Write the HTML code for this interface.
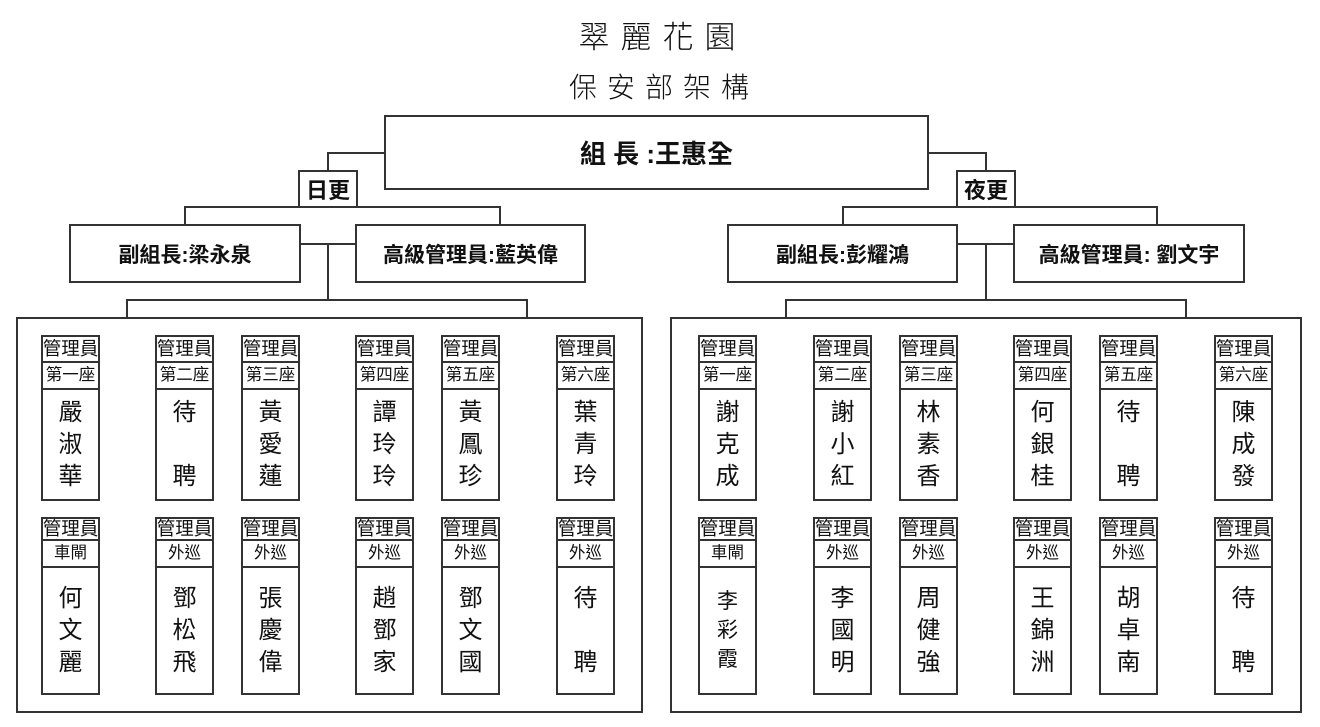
<!DOCTYPE html>
<html><head><meta charset="utf-8">
<style>
*{margin:0;padding:0;box-sizing:border-box}
html,body{width:1320px;height:727px;background:#fff;overflow:hidden}
body{position:relative;font-family:"Liberation Sans","Noto Sans CJK TC",sans-serif;color:#111}
.l{position:absolute;background:#333}
.b{position:absolute;border:2px solid #333;background:#fff;display:flex;align-items:center;justify-content:center;white-space:nowrap}
.t{position:absolute;left:0;width:1320px;text-align:center;font-weight:300;white-space:nowrap}
.main{font-size:26px;font-weight:bold}
.sub{font-size:21px;font-weight:bold}
.sh{font-size:22px;font-weight:bold}
.c{position:absolute;width:59px;border:2px solid #333;background:#fff;display:flex;flex-direction:column}
.r1{top:335px;height:166px}
.r2{top:517px;height:178px}
.h{border-bottom:2px solid #333;display:flex;align-items:center;justify-content:center;font-size:18.5px;white-space:nowrap;line-height:1;overflow:visible}
.r1 .h{height:26px}
.r2 .h{height:22px}
.s{height:27px;border-bottom:2px solid #333;display:flex;align-items:center;justify-content:center;font-size:16.5px;white-space:nowrap;line-height:1}
.n{flex:1;display:flex;align-items:center;justify-content:center;text-align:center;font-size:24px;line-height:32px}
.n.sm{font-size:21px;line-height:29px}
</style></head><body>

<div class="t" style="top:19px;font-size:31px;line-height:38px;letter-spacing:11px;padding-left:5px">翠麗花園</div>
<div class="t" style="top:69px;font-size:28px;line-height:38px;letter-spacing:10px;padding-left:8px">保安部架構</div>

<!-- connectors -->
<div class="l" style="left:327px;top:152px;width:59px;height:2px"></div>
<div class="l" style="left:327px;top:152px;width:2px;height:20px"></div>
<div class="l" style="left:927px;top:152px;width:60px;height:2px"></div>
<div class="l" style="left:985px;top:152px;width:2px;height:20px"></div>

<div class="l" style="left:184px;top:206px;width:317px;height:2px"></div>
<div class="l" style="left:184px;top:206px;width:2px;height:20px"></div>
<div class="l" style="left:499px;top:206px;width:2px;height:20px"></div>
<div class="l" style="left:842px;top:206px;width:316px;height:2px"></div>
<div class="l" style="left:842px;top:206px;width:2px;height:20px"></div>
<div class="l" style="left:1156px;top:206px;width:2px;height:20px"></div>

<div class="l" style="left:299px;top:243px;width:58px;height:2px"></div>
<div class="l" style="left:327px;top:243px;width:2px;height:58px"></div>
<div class="l" style="left:956px;top:243px;width:59px;height:2px"></div>
<div class="l" style="left:985px;top:243px;width:2px;height:58px"></div>

<div class="l" style="left:126px;top:299px;width:402px;height:2px"></div>
<div class="l" style="left:126px;top:299px;width:2px;height:20px"></div>
<div class="l" style="left:526px;top:299px;width:2px;height:20px"></div>
<div class="l" style="left:785px;top:299px;width:402px;height:2px"></div>
<div class="l" style="left:785px;top:299px;width:2px;height:20px"></div>
<div class="l" style="left:1185px;top:299px;width:2px;height:20px"></div>

<!-- boxes -->
<div class="b main" style="left:384px;top:115px;width:545px;height:75px">組 長 :王惠全</div>
<div class="b sh" style="left:298px;top:170px;width:60px;height:38px">日更</div>
<div class="b sh" style="left:956px;top:170px;width:60px;height:38px">夜更</div>

<div class="b sub" style="left:69px;top:224px;width:232px;height:59px">副組長:梁永泉</div>
<div class="b sub" style="left:355px;top:224px;width:231px;height:59px">高級管理員:藍英偉</div>
<div class="b sub" style="left:727px;top:224px;width:231px;height:59px">副組長:彭耀鴻</div>
<div class="b sub" style="left:1013px;top:224px;width:232px;height:59px">高級管理員: 劉文宇</div>

<!-- containers -->
<div class="b" style="left:16px;top:317px;width:627px;height:396px"></div>
<div class="b" style="left:670px;top:317px;width:632px;height:396px"></div>

<!-- left row 1 -->
<div class="c r1" style="left:41px"><div class="h">管理員</div><div class="s">第一座</div><div class="n">嚴<br>淑<br>華</div></div>
<div class="c r1" style="left:155px"><div class="h">管理員</div><div class="s">第二座</div><div class="n">待<br>　<br>聘</div></div>
<div class="c r1" style="left:241px"><div class="h">管理員</div><div class="s">第三座</div><div class="n">黃<br>愛<br>蓮</div></div>
<div class="c r1" style="left:355px"><div class="h">管理員</div><div class="s">第四座</div><div class="n">譚<br>玲<br>玲</div></div>
<div class="c r1" style="left:441px"><div class="h">管理員</div><div class="s">第五座</div><div class="n">黃<br>鳳<br>珍</div></div>
<div class="c r1" style="left:556px"><div class="h">管理員</div><div class="s">第六座</div><div class="n">葉<br>青<br>玲</div></div>

<!-- left row 2 -->
<div class="c r2" style="left:41px"><div class="h">管理員</div><div class="s">車閘</div><div class="n">何<br>文<br>麗</div></div>
<div class="c r2" style="left:155px"><div class="h">管理員</div><div class="s">外巡</div><div class="n">鄧<br>松<br>飛</div></div>
<div class="c r2" style="left:241px"><div class="h">管理員</div><div class="s">外巡</div><div class="n">張<br>慶<br>偉</div></div>
<div class="c r2" style="left:355px"><div class="h">管理員</div><div class="s">外巡</div><div class="n">趙<br>鄧<br>家</div></div>
<div class="c r2" style="left:441px"><div class="h">管理員</div><div class="s">外巡</div><div class="n">鄧<br>文<br>國</div></div>
<div class="c r2" style="left:556px"><div class="h">管理員</div><div class="s">外巡</div><div class="n">待<br>　<br>聘</div></div>

<!-- right row 1 -->
<div class="c r1" style="left:698px"><div class="h">管理員</div><div class="s">第一座</div><div class="n">謝<br>克<br>成</div></div>
<div class="c r1" style="left:813px"><div class="h">管理員</div><div class="s">第二座</div><div class="n">謝<br>小<br>紅</div></div>
<div class="c r1" style="left:899px"><div class="h">管理員</div><div class="s">第三座</div><div class="n">林<br>素<br>香</div></div>
<div class="c r1" style="left:1013px"><div class="h">管理員</div><div class="s">第四座</div><div class="n">何<br>銀<br>桂</div></div>
<div class="c r1" style="left:1099px"><div class="h">管理員</div><div class="s">第五座</div><div class="n">待<br>　<br>聘</div></div>
<div class="c r1" style="left:1214px"><div class="h">管理員</div><div class="s">第六座</div><div class="n">陳<br>成<br>發</div></div>

<!-- right row 2 -->
<div class="c r2" style="left:698px"><div class="h">管理員</div><div class="s">車閘</div><div class="n sm">李<br>彩<br>霞</div></div>
<div class="c r2" style="left:813px"><div class="h">管理員</div><div class="s">外巡</div><div class="n">李<br>國<br>明</div></div>
<div class="c r2" style="left:899px"><div class="h">管理員</div><div class="s">外巡</div><div class="n">周<br>健<br>強</div></div>
<div class="c r2" style="left:1013px"><div class="h">管理員</div><div class="s">外巡</div><div class="n">王<br>錦<br>洲</div></div>
<div class="c r2" style="left:1099px"><div class="h">管理員</div><div class="s">外巡</div><div class="n">胡<br>卓<br>南</div></div>
<div class="c r2" style="left:1214px"><div class="h">管理員</div><div class="s">外巡</div><div class="n">待<br>　<br>聘</div></div>

</body></html>
